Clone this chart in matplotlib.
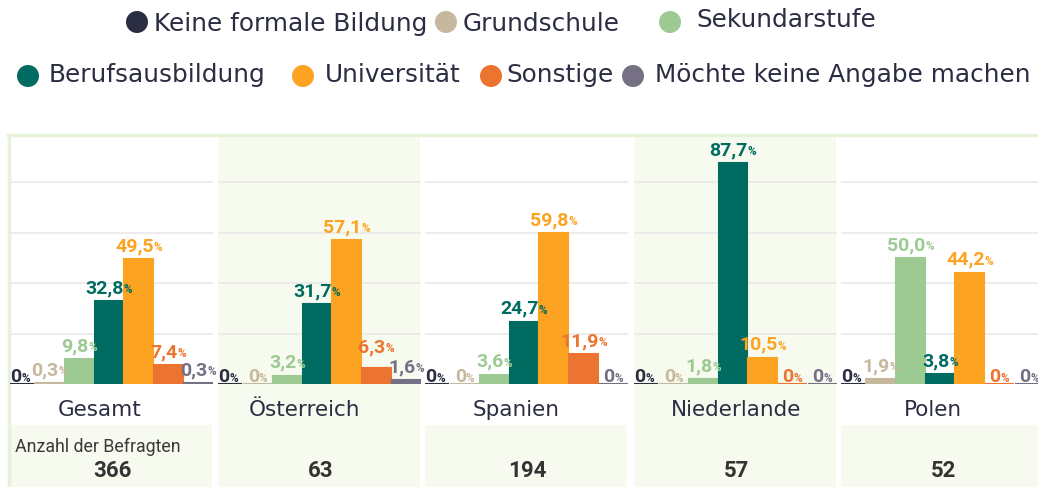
import matplotlib.pyplot as plt
from matplotlib import transforms
from matplotlib.patches import Circle, Rectangle

# Kategorien und Farben
categories = ["Keine formale Bildung", "Grundschule", "Sekundarstufe", "Berufsausbildung",
              "Universität", "Sonstige", "Möchte keine Angabe machen"]
colors = ["#2b2d42", "#c6b89c", "#9dca93", "#006b60", "#fca321", "#ec7431", "#767085"]

countries = ["Gesamt", "Österreich", "Spanien", "Niederlande", "Polen"]
respondents = [366, 63, 194, 57, 52]

# Werte in % je Land (Reihenfolge wie countries)
keine = [0, 0, 0, 0, 0]
grundschule = [0.3, 0, 0, 0, 1.9]
sekundarstufe = [9.8, 3.2, 3.6, 1.8, 50.0]
berufsausbildung = [32.8, 31.7, 24.7, 87.7, 3.8]
universitaet = [49.5, 57.1, 59.8, 10.5, 44.2]
sonstige = [7.4, 6.3, 11.9, 0, 0]
keine_angabe = [0.3, 1.6, 0, 0, 0]
series = [keine, grundschule, sekundarstufe, berufsausbildung, universitaet, sonstige, keine_angabe]

narrow = "Roboto"
main_font = "DejaVu Sans"
dark = "#2b2d42"
tint = "#f6faef"
border = "#e6f3da"

W, H = 1038, 487
fig = plt.figure(figsize=(W / 100, H / 100), dpi=100)

# Hintergrund-Ebene in Pixelkoordinaten
bg = fig.add_axes([0, 0, 1, 1])
bg.set_xlim(0, W)
bg.set_ylim(H, 0)
bg.axis("off")

panel_left = [10, 218, 425, 634, 841]
panel_w = 203
shaded = [False, True, False, True, False]
label_x = [100, 305, 516, 736, 933]
base_y = 384
top_y = 132

bg.plot([8, W], [135, 135], color=border, lw=2.5)
bg.plot([9, 9], [135, H], color=border, lw=2.5)
for i, left in enumerate(panel_left):
    if shaded[i]:
        bg.add_patch(Rectangle((left, 137), panel_w - 1, H - 137, color=tint, lw=0))
    else:
        bg.add_patch(Rectangle((left, 425), panel_w - 1, H - 425, color=tint, lw=0))
    bg.text(label_x[i], 410, countries[i], ha="center", va="center", fontsize=15.5,
            color=dark, family=main_font)
    bg.text(left + panel_w / 2 + 1, 471, str(respondents[i]), ha="center", va="center",
            fontsize=16, fontweight="bold", color="#333333", family=narrow)
bg.text(15, 447, "Anzahl der Befragten", ha="left", va="center", fontsize=12.8,
        color="#3a3a3a", family=narrow)

# Legende
legend_items = [(137, 22, 154, 31), (446, 22, 463, 31), (670, 22, 696, 27),
                (28, 76, 49, 82), (303, 76, 325, 82), (491, 76, 506, 82), (633, 76, 655, 82)]
for (cx, cy, tx, ty), name, c in zip(legend_items, categories, colors):
    bg.add_patch(Circle((cx, cy), 11, color=c, lw=0))
    bg.text(tx, ty, name, ha="left", va="baseline", fontsize=17.8, color=dark, family=main_font)

renderer = fig.canvas.get_renderer()
NUM_SIZE = 14
CAP = NUM_SIZE * 100 / 72 * 0.71  # Versalhöhe in Pixeln


def place(lab):
    ax = lab["ax"]
    lab["t1"].set_transform(transforms.offset_copy(ax.transData, fig=fig, x=lab["start"],
                                                   y=lab["dy"], units="dots"))
    lab["t2"].set_transform(transforms.offset_copy(ax.transData, fig=fig, x=lab["start"] + lab["w1"],
                                                   y=lab["dy"], units="dots"))


def glyph_box(lab):
    # horizontale Ausdehnung und Grundlinie/Versalhöhe in Pixeln
    px, py = lab["ax"].transData.transform((lab["x"], lab["v"]))
    x0 = px + lab["start"]
    base = py + lab["dy"]
    return x0, x0 + lab["w"], base, base + CAP


def value_label(ax, x, v, color):
    num = f"{v:.1f}".replace(".", ",") if v else "0"
    t1 = ax.text(x, v, num, ha="left", va="baseline", fontsize=NUM_SIZE, fontweight="bold",
                 color=color, family=narrow)
    t2 = ax.text(x, v, "%", ha="left", va="baseline", fontsize=8.5, fontweight="bold",
                 color=color, family=narrow)
    w1 = t1.get_window_extent(renderer).width
    w2 = t2.get_window_extent(renderer).width
    lab = dict(ax=ax, x=x, v=v, t1=t1, t2=t2, start=-(w1 + w2) / 2, w1=w1, w=w1 + w2,
               dy=8 if v else 2)
    place(lab)
    return lab


xs = list(range(len(categories)))
for p, left in enumerate(panel_left):
    ax = fig.add_axes([left / W, (H - base_y) / H, panel_w / W, (base_y - top_y) / H])
    ax.set_facecolor("none")
    ax.set_xlim(-0.33, 6.5)
    ax.set_ylim(0, 100)
    ax.axis("off")
    for g in [20, 40, 60, 80]:
        ax.axhline(g, color="#e9e9e9", lw=1.2, zorder=0)
    vals = [s[p] for s in series]
    ax.bar(xs, vals, width=0.97, color=colors, edgecolor=colors, linewidth=1.5, zorder=2)
    labels = [value_label(ax, x, v, c) for x, v, c in zip(xs, vals, colors)]
    # überlappende Beschriftungen nach oben schieben
    for i in range(len(labels) - 2, -1, -1):
        if not labels[i]["v"]:
            continue
        ax0, ax1, ab, at = glyph_box(labels[i])
        bx0, bx1, bb, bt = glyph_box(labels[i + 1])
        if ax1 - 1 > bx0 and ab < bt + 2 and at > bb:
            labels[i]["dy"] += bt + 6 - ab
            place(labels[i])

fig.savefig("out.png", dpi=100)
